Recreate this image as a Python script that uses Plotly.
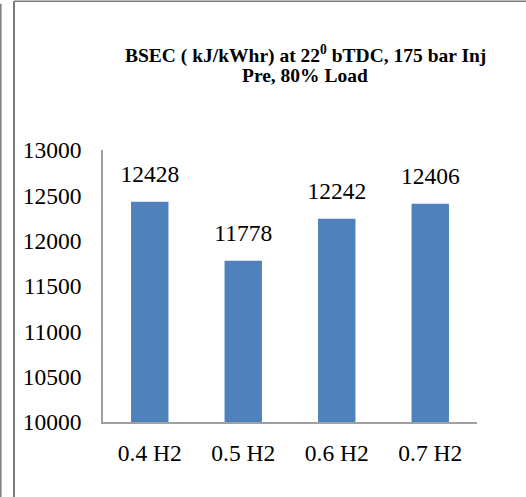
import plotly.graph_objects as go

categories = ["0.4 H2", "0.5 H2", "0.6 H2", "0.7 H2"]
bsec_values = [12428, 11778, 12242, 12406]
y_tick_values = [10000, 10500, 11000, 11500, 12000, 12500, 13000]
y_tick_labels = ["10000", "10500", "11000", "11500", "12000", "12500", "13000"]
title_lines = ["BSEC ( kJ/kWhr) at 22<sup>0</sup> bTDC, 175 bar Inj", "Pre, 80% Load"]

W, H = 526, 497
L, R, T, B = 103, 477, 150, 421.7

def px_x(px):
    return (px - L) / (R - L)

def px_y(py):
    return (B - py) / (B - T)

serif = "Liberation Serif"
frame_col = "#7a7a7a"
axis_col = "#a0a0a0"
fs = 23.5

fig = go.Figure()
fig.add_trace(
    go.Bar(
        x=categories,
        y=bsec_values,
        marker=dict(color="#4F81BD", line=dict(width=0)),
        width=0.4,
        hoverinfo="skip",
    )
)
fig.add_trace(
    go.Scatter(
        x=categories,
        y=bsec_values,
        mode="markers+text",
        marker=dict(size=21, opacity=0),
        text=[str(v) for v in bsec_values],
        textposition="top center",
        textfont=dict(family=serif, size=fs, color="black"),
        cliponaxis=False,
        hoverinfo="skip",
    )
)

annotations = [
    dict(text="<b>" + line + "</b>", xref="paper", yref="paper",
         x=px_x(305), y=px_y(cy), xanchor="center", yanchor="middle",
         showarrow=False, font=dict(family=serif, size=19.5, color="black"))
    for line, cy in zip(title_lines, [55, 76])
]

fig.update_layout(
    width=W,
    height=H,
    margin=dict(l=L, r=W - R, t=T, b=H - B, pad=0),
    paper_bgcolor="white",
    plot_bgcolor="white",
    showlegend=False,
    annotations=annotations,
    xaxis=dict(
        showline=True,
        linecolor=axis_col,
        linewidth=1.5,
        ticks="",
        showgrid=False,
        tickfont=dict(family=serif, size=fs, color="black"),
        ticklabelstandoff=9,
    ),
    yaxis=dict(
        range=[10000, 13000],
        tickvals=y_tick_values,
        ticktext=y_tick_labels,
        showline=True,
        linecolor=axis_col,
        linewidth=1.5,
        ticks="",
        showgrid=False,
        zeroline=False,
        tickfont=dict(family=serif, size=fs, color="black"),
        ticklabelstandoff=15,
    ),
    shapes=[
        dict(type="line", xref="paper", yref="paper",
             x0=px_x(0.8), x1=px_x(0.8), y0=px_y(4), y1=px_y(H),
             line=dict(color=frame_col, width=1.5)),
        dict(type="line", xref="paper", yref="paper",
             x0=px_x(14), x1=px_x(14), y0=px_y(1.5), y1=px_y(H),
             line=dict(color=frame_col, width=2)),
        dict(type="line", xref="paper", yref="paper",
             x0=px_x(14), x1=px_x(W), y0=px_y(1.5), y1=px_y(1.5),
             line=dict(color=frame_col, width=1.5)),
    ],
)

fig.write_html(
    "out.html",
    config={"displayModeBar": False},
    post_script="document.body.style.margin='0';document.body.style.overflow='hidden';",
)
